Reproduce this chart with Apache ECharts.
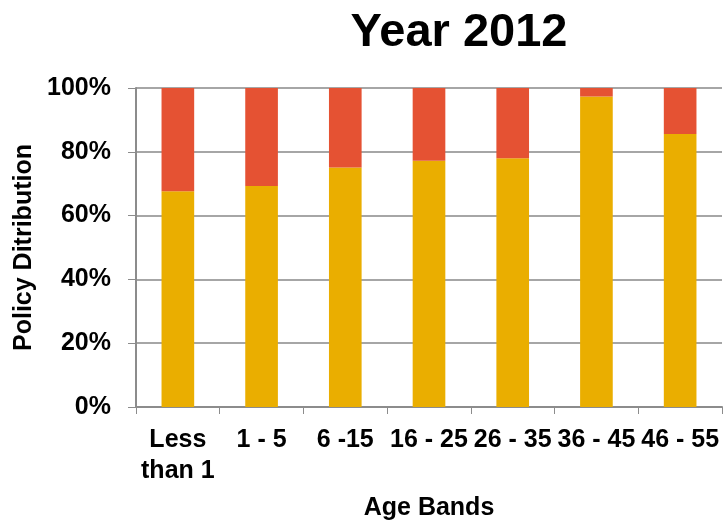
<!DOCTYPE html>
<html lang="en">
<head>
<meta charset="UTF-8">
<title>Year 2012</title>
<style>
    body { margin: 0; padding: 0; background: #fff; }
    #chart { width: 724px; height: 526px; }
</style>
</head>
<body>
<script src="https://cdn.jsdelivr.net/npm/echarts@6/dist/echarts.min.js"></script>
<div id="chart"></div>
<script>
// data
var ageBands = ['Less\nthan 1', '1 - 5', '6 -15', '16 - 25', '26 - 35', '36 - 45', '46 - 55'];
var lowerShare = [67.6, 69.3, 75.1, 77.2, 78.0, 97.3, 85.6];
var upperShare = [32.4, 30.7, 24.9, 22.8, 22.0, 2.7, 14.4];
var yTicks = [0, 20, 40, 60, 80, 100];

var myChart = echarts.init(document.getElementById('chart'));

var labelFont = {
    fontFamily: 'Liberation Sans, Arial, sans-serif',
    fontWeight: 'bold',
    fontSize: 25,
    color: '#000'
};

var option = {
    animation: false,
    title: {
        text: 'Year 2012',
        left: 454,
        textAlign: 'center',
        top: 5,
        textStyle: {
            fontFamily: 'Liberation Sans, Arial, sans-serif',
            fontWeight: 'bold',
            fontSize: 47,
            color: '#000'
        }
    },
    grid: { left: 136, right: 2, top: 88, bottom: 119, outerBoundsMode: 'none' },
    xAxis: {
        type: 'category',
        data: ageBands,
        name: 'Age Bands',
        nameLocation: 'middle',
        nameGap: 89,
        nameTextStyle: labelFont,
        axisLine: { lineStyle: { color: '#8c8c8c', width: 2 } },
        axisTick: { show: true, length: 7, lineStyle: { color: '#8c8c8c', width: 1 } },
        axisLabel: Object.assign({ margin: 18, interval: 0, lineHeight: 31 }, labelFont)
    },
    yAxis: {
        type: 'value',
        min: 0,
        max: 100,
        interval: 20,
        name: 'Policy Ditribution',
        nameLocation: 'middle',
        nameGap: 99,
        nameTextStyle: labelFont,
        axisLine: { show: true, lineStyle: { color: '#8c8c8c', width: 2 } },
        axisTick: { show: true, length: 8, lineStyle: { color: '#8c8c8c', width: 1 } },
        splitLine: { lineStyle: { color: '#a6a6a6', width: 2 } },
        axisLabel: Object.assign({
            margin: 25,
            formatter: function (v) {
                return yTicks.indexOf(v) >= 0 ? v + '%' : '';
            }
        }, labelFont)
    },
    series: [
        {
            name: 'lower',
            type: 'bar',
            stack: 'total',
            barWidth: '39%',
            itemStyle: { color: '#EAAE00' },
            data: lowerShare
        },
        {
            name: 'upper',
            type: 'bar',
            stack: 'total',
            itemStyle: { color: '#E55233' },
            data: upperShare
        }
    ]
};

myChart.setOption(option);
</script>
</body>
</html>
